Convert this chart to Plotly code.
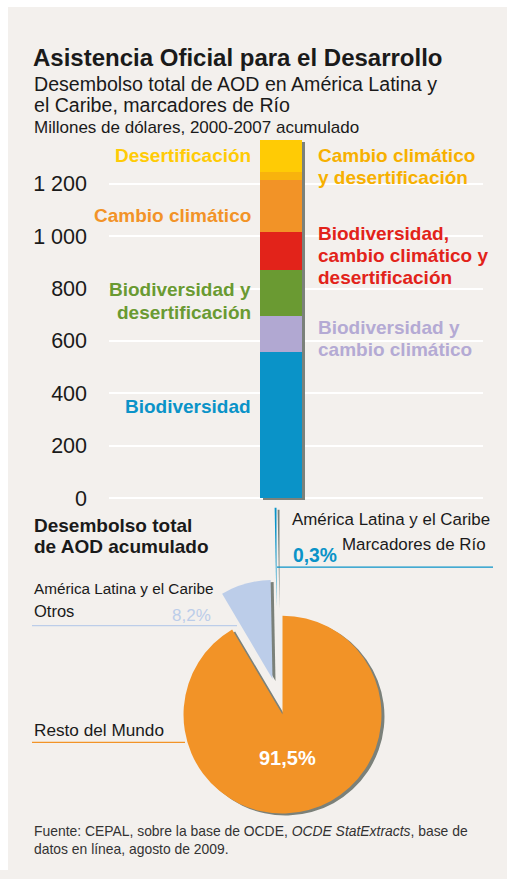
import plotly.graph_objects as go

W, H = 507, 879

# Cumulative ODA disbursements to Latin America and the Caribbean, 2000-2007,
# by Rio marker (millions of dollars), stacked bottom to top
segments = [
    "Biodiversidad",
    "Biodiversidad y cambio climático",
    "Biodiversidad y desertificación",
    "Biodiversidad, cambio climático y desertificación",
    "Cambio climático",
    "Cambio climático y desertificación",
    "Desertificación",
]
segment_values = [556, 140, 174, 147, 198, 30, 121]
segment_colors = ["#0a93c8", "#b1a8d2", "#6a9a32", "#e2231a",
                  "#f29327", "#f8b30d", "#ffcb05"]

y_ticks = [0, 200, 400, 600, 800, 1000, 1200]

# Share of total cumulative ODA (%)
pie_labels = ["Resto del Mundo",
              "América Latina y el Caribe, Otros",
              "América Latina y el Caribe, Marcadores de Río"]
pie_shares = [91.5, 8.2, 0.3]
pie_colors = ["#f29327", "#bccde9", "#0a93c8"]

BG = "#f3f0ed"
SHADOW = "#7b817a"
INK = "#1a1a1a"
FONT = "Liberation Sans, Arial, sans-serif"


def px(x):
    return x / W


def py(y):
    return 1 - y / H


fig = go.Figure()

# ---- stacked bar -------------------------------------------------------
bar_x, bar_w = 0.46, 0.1123
px_per_unit = (506.5 - 132.7) / 1412.0

# drop shadow behind the column
fig.add_trace(go.Bar(
    x=[bar_x + 3 / 374], y=[sum(segment_values)], base=[-2 / px_per_unit],
    width=[bar_w], marker=dict(color=SHADOW, line=dict(width=0)),
    hoverinfo="skip", showlegend=False,
))
for name, val, col in zip(segments, segment_values, segment_colors):
    fig.add_trace(go.Bar(
        x=[bar_x], y=[val], width=[bar_w], name=name,
        marker=dict(color=col, line=dict(width=0)),
        showlegend=False,
    ))

# ---- exploded pie (one trace per slice so each can be offset) ----------
pie_r = 100
pie_cx, pie_cy = 282.5, 722
slice_offsets = [(0, 0), (-10, -36), (-6, -109)]
shadow_dx, shadow_dy = 3, 2
transparent = "rgba(0,0,0,0)"


def pie_domain(cx, cy):
    return dict(x=[px(cx - pie_r), px(cx + pie_r)],
                y=[py(cy + pie_r), py(cy - pie_r)])


for layer in ("shadow", "face"):
    for i, (dx, dy) in enumerate(slice_offsets):
        cx, cy = pie_cx + dx, pie_cy + dy
        if layer == "shadow":
            cx, cy = cx + shadow_dx, cy + shadow_dy
        colors = [transparent] * len(pie_shares)
        colors[i] = SHADOW if layer == "shadow" else pie_colors[i]
        fig.add_trace(go.Pie(
            values=pie_shares, labels=pie_labels, sort=False,
            direction="clockwise", rotation=0,
            marker=dict(colors=colors, line=dict(width=0)),
            textinfo="none", hoverinfo="skip", showlegend=False,
            domain=pie_domain(cx, cy),
        ))


def pct(v):
    return f"{v:.1f}".replace(".", ",") + "%"


annotations = []


def ann(text, x, y, size, color=INK, bold=False, xanchor="left"):
    if bold:
        text = f"<b>{text}</b>"
    annotations.append(dict(
        text=text, x=px(x), y=py(y), xref="paper", yref="paper",
        xanchor=xanchor, yanchor="middle", showarrow=False,
        font=dict(family=FONT, size=size, color=color),
    ))


# headings
ann("Asistencia Oficial para el Desarrollo", 31, 58.5, 24, bold=True)
ann("Desembolso total de AOD en América Latina y", 32, 85, 19.6)
ann("el Caribe, marcadores de Río", 32, 106, 19.6)
ann("Millones de dólares, 2000-2007 acumulado", 32, 129, 17)

# segment labels
seg_label_lines = [
    (["Desertificación"], 253, 157, "right", segment_colors[6]),
    (["Cambio climático"], 253, 218, "right", segment_colors[4]),
    (["Biodiversidad y", "desertificación"], 253, 293, "right", segment_colors[2]),
    (["Biodiversidad"], 253, 411, "right", segment_colors[0]),
    (["Cambio climático", "y desertificación"], 316, 157, "left", "#f7b000"),
    (["Biodiversidad,", "cambio climático y", "desertificación"], 316, 236, "left", segment_colors[3]),
    (["Biodiversidad y", "cambio climático"], 316, 331, "left", "#b4aad4"),
]
for lines, x, y0, anchor, col in seg_label_lines:
    for k, line in enumerate(lines):
        ann(line, x, y0 + 22.3 * k, 19, color=col, bold=True, xanchor=anchor)

# pie section
ann("Desembolso total", 32, 531, 19, bold=True)
ann("de AOD acumulado", 32, 552, 19, bold=True)

ann("América Latina y el Caribe", 290, 525, 16.9)
ann("Marcadores de Río", 488, 550, 16.9, xanchor="right")
ann(pct(pie_shares[2]), 291, 561, 19.3, color=pie_colors[2], bold=True)

ann("América Latina y el Caribe", 32, 595, 15.3)
ann("Otros", 32, 617, 16.5)
ann(pct(pie_shares[1]), 213, 622, 17, color=pie_colors[1], xanchor="right")

ann("Resto del Mundo", 32, 738, 17.2)
ann(pct(pie_shares[0]), 287, 766, 20, color="white", bold=True, xanchor="center")

# source note
annotations.append(dict(
    text="Fuente: CEPAL, sobre la base de OCDE, <i>OCDE StatExtracts</i>, base de",
    x=px(32), y=py(840), xref="paper", yref="paper", xanchor="left",
    yanchor="middle", showarrow=False,
    font=dict(family=FONT, size=13.9, color="#333333"),
))
ann("datos en línea, agosto de 2009.", 32, 858, 13.9, color="#333333")

# white page border on the top and left, and leader lines
shapes = [
    dict(type="rect", xref="paper", yref="paper", x0=0, x1=px(8), y0=0, y1=1,
         fillcolor="white", line=dict(width=0), layer="below"),
    dict(type="rect", xref="paper", yref="paper", x0=0, x1=1, y0=py(7), y1=1,
         fillcolor="white", line=dict(width=0), layer="below"),
    dict(type="line", xref="paper", yref="paper", x0=px(277), x1=px(493),
         y0=py(573), y1=py(573), line=dict(color=pie_colors[2], width=1.3)),
    dict(type="line", xref="paper", yref="paper", x0=px(32), x1=px(237),
         y0=py(632), y1=py(632), line=dict(color=pie_colors[1], width=1.3)),
    dict(type="line", xref="paper", yref="paper", x0=px(32), x1=px(185),
         y0=py(750), y1=py(750), line=dict(color=pie_colors[0], width=1.3)),
]

fig.update_layout(
    width=W, height=H,
    margin=dict(l=0, r=0, t=0, b=0),
    paper_bgcolor=BG,
    plot_bgcolor=BG,
    barmode="stack",
    separators=", ",
    font=dict(family=FONT, color=INK),
    showlegend=False,
    annotations=annotations,
    shapes=shapes,
    xaxis=dict(domain=[px(109), px(483)], range=[0, 1], visible=False,
               fixedrange=True),
    yaxis=dict(domain=[py(506.5), py(132.7)], range=[-12, 1400],
               tickvals=y_ticks, separatethousands=True,
               showgrid=True, gridcolor="white", gridwidth=1.6,
               zeroline=False, showline=False, ticks="",
               ticklabelstandoff=21,
               tickfont=dict(family=FONT, size=21.5, color=INK),
               fixedrange=True),
)

fig.write_html("out.html")
